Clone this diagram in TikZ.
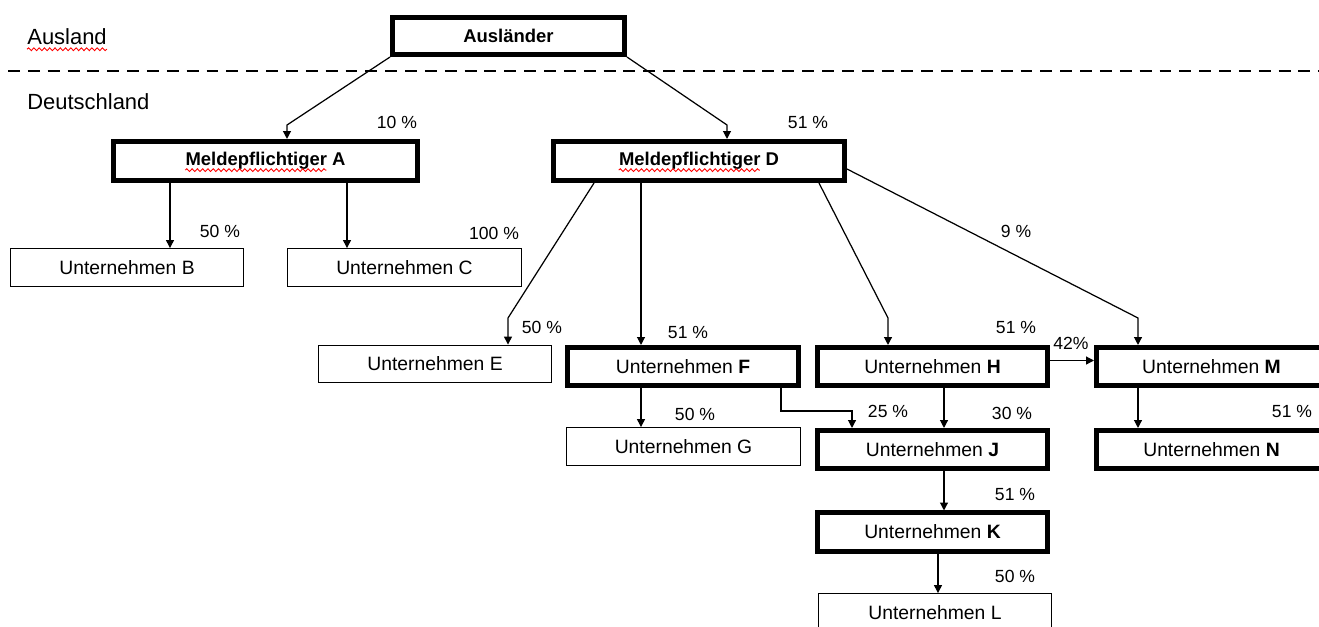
\documentclass[tikz,border=0pt]{standalone}
\usepackage{fontspec}
\setmainfont{Liberation Sans}
\usetikzlibrary{arrows.meta,calc,decorations.pathmorphing}

\tikzset{
	firma/.style={rectangle, draw, line width=0.8pt, inner sep=0pt,
		minimum width=4.67cm, minimum height=0.75cm,
		font=\fontsize{11}{13}\selectfont},
	kernfirma/.style={firma, line width=2.6pt,
		minimum width=4.61cm, minimum height=0.77cm},
	anteil/.style={inner sep=0pt, font=\fontsize{10}{12}\selectfont},
	region/.style={inner sep=0pt, anchor=west, font=\fontsize{12.5}{14}\selectfont},
	pfeil/.style={-{Triangle[length=4.5pt,width=4.5pt]}, line width=0.7pt},
	wellig/.style={red, line width=0.5pt, decorate,
		decoration={snake, amplitude=0.8pt, segment length=3pt}}
}

\begin{document}
\begin{tikzpicture}[x=0.02cm, y=-0.02cm]
				\useasboundingbox (0,0) rectangle (1319,626);
				% Grenze
				\draw[line width=1.2pt, dash pattern=on 6.8pt off 4.5pt] (8,71) -- (1319,71);
				\node[region] (ausl) at (27,37) {Ausland};
				\node[region] (dtl) at (27,102) {Deutschland};
				\draw[wellig] ([yshift=-2.5pt]ausl.base west) -- ([yshift=-2.5pt]ausl.base east);

				\node[kernfirma, minimum width=4.65cm, minimum height=0.75cm,
					font=\fontsize{10.5}{12}\selectfont] (aus) at (508.5,36) {\textbf{Ausländer}};
				\node[kernfirma, minimum width=6.09cm, minimum height=0.79cm] (A) at (265.5,161) {};
				\node[kernfirma, minimum width=5.83cm, minimum height=0.79cm] (D) at (699,161) {};
				\node[anteil, font=\fontsize{10.5}{12}\selectfont] (At) at (A) {\textbf{Meldepflichtiger A}};
				\node[anteil, font=\fontsize{10.5}{12}\selectfont] (Dt) at (D) {\textbf{Meldepflichtiger D}};
				\draw[wellig] ([yshift=-2.5pt]At.base west) -- ([yshift=-2.5pt,xshift=-11pt]At.base east);
				\draw[wellig] ([yshift=-2.5pt]Dt.base west) -- ([yshift=-2.5pt,xshift=-11pt]Dt.base east);

				\node[firma] (B) at (127,267.5) {Unternehmen B};
				\node[firma] (C) at (404.5,267.5) {Unternehmen C};
				\node[firma] (E) at (435,364) {Unternehmen E};
				\node[kernfirma] (F) at (683,366.5) {Unternehmen \textbf{F}};
				\node[kernfirma] (H) at (932.5,366.5) {Unternehmen \textbf{H}};
				\node[kernfirma] (M) at (1211.5,366.5) {Unternehmen \textbf{M}};
				\node[firma] (G) at (683.5,446.5) {Unternehmen G};
				\node[kernfirma] (J) at (932.5,449.5) {Unternehmen \textbf{J}};
				\node[kernfirma] (N) at (1211.5,449.5) {Unternehmen \textbf{N}};
				\node[kernfirma] (K) at (932.5,532) {Unternehmen \textbf{K}};
				\node[firma] (L) at (935,612.5) {Unternehmen L};

				% Knickpunkte
				\coordinate (kA) at (287,125);
				\coordinate (kD) at (727,125);
				\coordinate (sE) at (594,0);
				\coordinate (kE) at (508,318);
				\coordinate (sH) at (819,0);
				\coordinate (kH) at (888,318);
				\coordinate (kM) at (1138,318);
				\coordinate (xB) at (170,0);
				\coordinate (xC) at (347,0);
				\coordinate (xF) at (641,0);
				\coordinate (xJ) at (944,0);
				\coordinate (xL) at (938,0);
				\coordinate (kFJ1) at (781,411);
				\coordinate (kFJ2) at (852,411);

				\draw[pfeil] (aus.south west) -- (kA) -- (kA |- A.north);
				\draw[pfeil] (aus.south east) -- (kD) -- (kD |- D.north);
				\draw[pfeil] (xB |- A.south) -- (xB |- B.north);
				\draw[pfeil] (xC |- A.south) -- (xC |- C.north);
				\draw[pfeil] (sE |- D.south) -- (kE) -- (kE |- E.north);
				\draw[pfeil] (xF |- D.south) -- (xF |- F.north);
				\draw[pfeil] (sH |- D.south) -- (kH) -- (kH |- H.north);
				\draw[pfeil] ([yshift=-0.16cm]D.east) -- (kM) -- (kM |- M.north);
				\draw[pfeil] ([yshift=0.12cm]H.east) -- ([yshift=0.12cm]M.west);
				\draw[pfeil] (xF |- F.south) -- (xF |- G.north);
				\draw[pfeil] (kFJ1 |- F.south) -- (kFJ1) -- (kFJ2) -- (kFJ2 |- J.north);
				\draw[pfeil] (xJ |- H.south) -- (xJ |- J.north);
				\draw[pfeil] (kM |- M.south) -- (kM |- N.north);
				\draw[pfeil] (xJ |- J.south) -- (xJ |- K.north);
				\draw[pfeil] (xL |- K.south) -- (xL |- L.north);

				% Anteile
				\node[anteil] (pA) at (397,122) {10 \%};
				\node[anteil] (pD) at (808,122) {51 \%};
				\node[anteil] (pB) at (220,231) {50 \%};
				\node[anteil] (pC) at (494,233) {100 \%};
				\node[anteil] (pE) at (542,327) {50 \%};
				\node[anteil] (pF) at (688,332) {51 \%};
				\node[anteil] (pH) at (1016,327) {51 \%};
				\node[anteil] (pM) at (1016,231) {9 \%};
				\node[anteil] (pHM) at (1071,343) {42\%};
				\node[anteil] (pG) at (695,414) {50 \%};
				\node[anteil] (pFJ) at (888,411) {25 \%};
				\node[anteil] (pJ) at (1012,413) {30 \%};
				\node[anteil] (pN) at (1292,411) {51 \%};
				\node[anteil] (pK) at (1015,494) {51 \%};
				\node[anteil] (pL) at (1015,576) {50 \%};
			\end{tikzpicture}
\end{document}
